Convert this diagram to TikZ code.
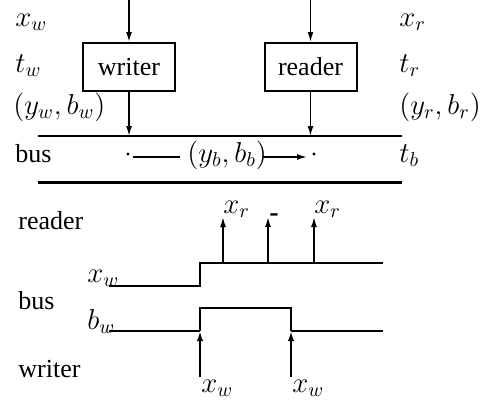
\documentclass[tikz,border=0pt]{standalone}
\usepackage{fontspec}
\setmainfont{Liberation Serif}
\usetikzlibrary{arrows.meta}
\begin{document}
\begin{tikzpicture}[x=0.5pt,y=-0.5pt,
  every node/.style={font=\fontsize{13}{15}\selectfont, inner sep=0pt},
  lbl/.style={anchor=base west},
  mlbl/.style={anchor=base west, font=\fontsize{14.8}{17}\selectfont},
  blk/.style={draw, line width=1pt, minimum width=46pt, minimum height=24pt},
  arr/.style={-{Latex[length=5pt,width=3pt]}, line width=0.8pt},
  warr/.style={-{Latex[length=5pt,width=3.2pt]}, line width=1.2pt},
  dotn/.style={circle, fill, inner sep=0.55pt},
  thinw/.style={line width=0.65pt},
  midw/.style={line width=0.9pt},
  thickw/.style={line width=1.3pt}
]
\useasboundingbox (0,0) rectangle (496,403);
% ---------- top part ----------
\node[blk] (writer) at (129,67) {writer};
\node[blk] (reader) at (310.5,67) {reader};
\coordinate (wtop) at (129,0);
\coordinate (rtop) at (310.5,0);
\coordinate (wbus) at (129,136);
\coordinate (rbus) at (310.5,136);
\coordinate (busL) at (38,136);
\coordinate (busR) at (402,136);
\coordinate (busL2) at (38,182);
\coordinate (busR2) at (402,182);
\draw[arr] (wtop) -- (writer.north);
\draw[arr] (rtop) -- (reader.north);
\draw[arr] (writer.south) -- (wbus);
\draw[arr] (reader.south) -- (rbus);
\draw[line width=0.85pt] (busL) -- (busR);
\draw[line width=1.5pt] (busL2) -- (busR2);

\node[mlbl] (lxw) at (15,26) {$x_w$};
\node[mlbl] (ltw) at (15,72) {$t_w$};
\node[mlbl] (lyw) at (13,114) {$(y_w,b_w)$};
\node[lbl] (lbus) at (15,162) {bus};
\node[mlbl] (lxr) at (399,26) {$x_r$};
\node[mlbl] (ltr) at (399,72) {$t_r$};
\node[mlbl] (lyr) at (399,114) {$(y_r,b_r)$};
\node[mlbl] (ltb) at (399,162) {$t_b$};

\node[dotn] (d1) at (128,154) {};
\node[dotn] (d2) at (314,154) {};
\node[mlbl] (yb) at (187,162) {$(y_b,b_b)$};
\coordinate (m1) at (133,157);
\coordinate (m2) at (180,157);
\coordinate (m3) at (263,157);
\coordinate (m4) at (307,157);
\draw[line width=0.8pt] (m1) -- (m2);
\draw[arr] (m3) -- (m4);

% ---------- timing part ----------
\node[lbl] (treader) at (18,229) {reader};
\node[lbl] (tbus) at (18,309) {bus};
\node[lbl] (twriter) at (18,377) {writer};
\node[mlbl] (txw) at (87,282) {$x_w$};
\node[mlbl] (tbw) at (87,329) {$b_w$};

\coordinate (a0) at (109,286);
\coordinate (a1) at (200,286);
\coordinate (a2) at (200,263);
\coordinate (a3) at (383,263);
\draw[midw] (a0) -- (a1) -- (a2) -- (a3);

\coordinate (b0) at (109,331);
\coordinate (b1) at (200,331);
\coordinate (b2) at (200,308);
\coordinate (b3) at (291,308);
\coordinate (b4) at (291,331);
\coordinate (b5) at (383,331);
\draw[thinw] (b0) -- (b1);
\draw[thickw] (b1) -- (b2) -- (b3) -- (b4);
\draw[thinw] (b4) -- (b5);

% reader samples
\coordinate (r1) at (223,263);
\coordinate (r2) at (268,263);
\coordinate (r3) at (314,263);
\coordinate (r1t) at (223,217);
\coordinate (r2t) at (268,217);
\coordinate (r3t) at (314,217);
\draw[arr] (r1) -- (r1t);
\draw[arr] (r2) -- (r2t);
\draw[arr] (r3) -- (r3t);
\node[mlbl] (xr1) at (223,213) {$x_r$};
\node[lbl, font=\fontsize{14}{16}\selectfont\bfseries] (xr2) at (269,221) {-};
\node[mlbl] (xr3) at (314,213) {$x_r$};

% writer events
\coordinate (w1) at (200,377);
\coordinate (w2) at (291,377);
\draw[warr] (w1) -- (b1);
\draw[warr] (w2) -- (b4);
\node[mlbl] (xw1) at (201,392) {$x_w$};
\node[mlbl] (xw2) at (292,392) {$x_w$};
\end{tikzpicture}
\end{document}
